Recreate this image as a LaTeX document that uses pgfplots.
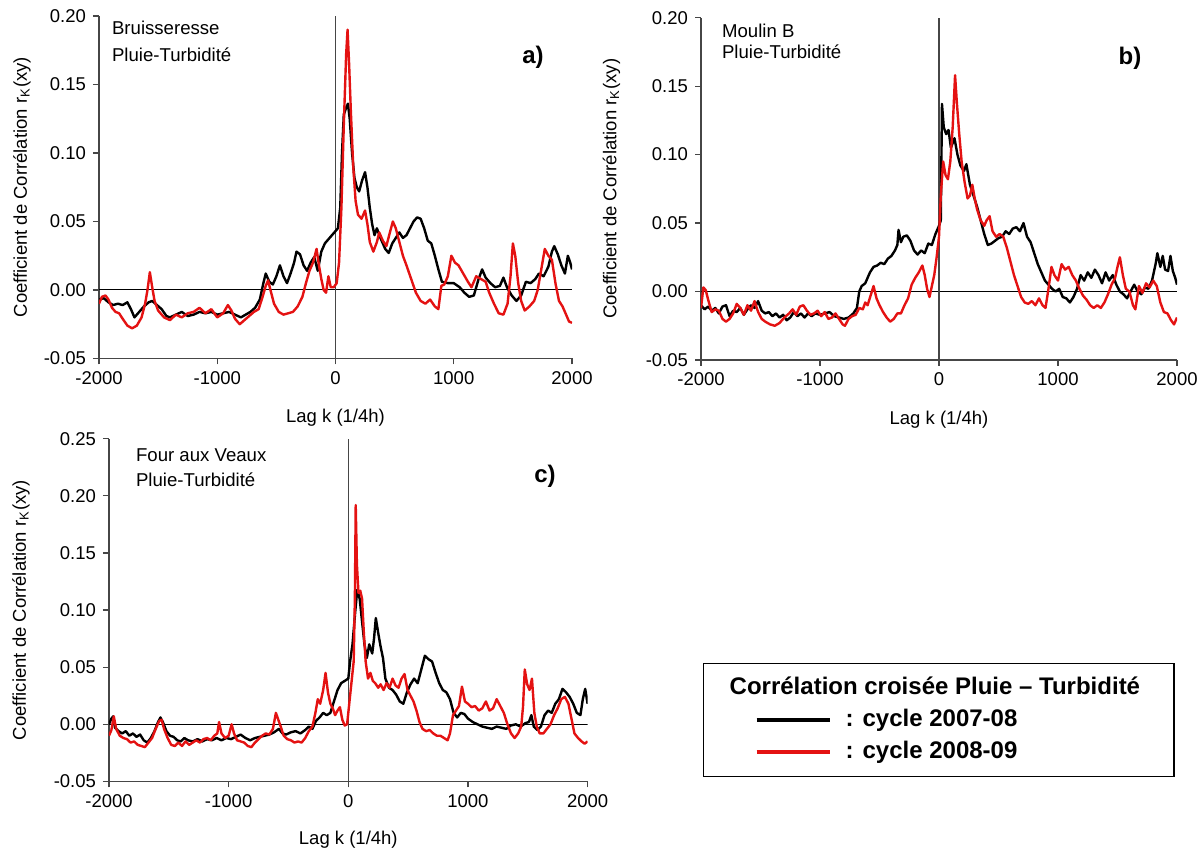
\documentclass[border=0pt]{standalone}
\usepackage{pgfplots}
\pgfplotsset{compat=1.18}
\usepackage{fontspec}
\setmainfont{Liberation Sans}
\definecolor{axgray}{RGB}{70,70,70}
\definecolor{cred}{RGB}{228,18,18}
\pgfplotsset{
  panel/.style={
    scale only axis,
    axis lines*=left,
    axis line style={axgray, line width=0.6pt},
    tick style={axgray, line width=0.6pt},
    tick align=outside,
    major tick length=3pt,
    xmin=-2000, xmax=2000,
    xtick={-2000,-1000,0,1000,2000},
    xticklabels={-2000,-1000,0,1000,2000},
    ticklabel style={font=\fontsize{9.25}{11}\selectfont},
    label style={font=\fontsize{9.25}{11}\selectfont},
    xlabel={Lag k (1/4h)},
    ylabel={Coefficient de Corrélation r\textsubscript{K}(xy)},
  },
  ylab/.style={ylabel style={at={([xshift=#1]axis description cs:0,0.5)}, anchor=center, rotate=0}},
  xlab/.style={xlabel style={at={([yshift=#1]axis description cs:0.5,0)}, anchor=center}},
  blk/.style={black, line width=1.2pt, line join=round},
  rd/.style={cred, line width=1.2pt, line join=round},
  zl/.style={black, line width=0.5pt},
  vl/.style={axgray, line width=0.6pt},
}
\begin{document}
\begin{tikzpicture}
\useasboundingbox (0,0) rectangle (601.5pt,427pt);
% ---------------- a ----------------
\begin{axis}[panel, at={(49.5pt,247.75pt)}, anchor=south west,
  width=236.5pt, height=171.25pt,
  ymin=-0.05, ymax=0.20,
  ytick={-0.05,0,0.05,0.10,0.15,0.20},
  yticklabels={-0.05,0.00,0.05,0.10,0.15,0.20},
  xlab=-29.75pt, ylab=-38.5pt]
\addplot[zl, forget plot] coordinates {(-2000,0) (2000,0)};
\addplot[vl, forget plot] coordinates {(0,-0.05) (0,0.20)};
\addplot[blk] coordinates {(-2000,-0.007) (-1960,-0.006) (-1920,-0.009) (-1880,-0.011) (-1840,-0.010) (-1800,-0.011) (-1760,-0.009) (-1730,-0.014) (-1700,-0.020) (-1660,-0.016) (-1620,-0.012) (-1580,-0.009) (-1550,-0.008) (-1510,-0.011) (-1470,-0.014) (-1430,-0.019) (-1400,-0.020) (-1350,-0.018) (-1300,-0.016) (-1250,-0.019) (-1200,-0.018) (-1150,-0.016) (-1100,-0.017) (-1050,-0.016) (-1000,-0.018) (-950,-0.017) (-900,-0.016) (-850,-0.018) (-800,-0.020) (-760,-0.018) (-720,-0.016) (-680,-0.013) (-640,-0.007) (-610,0.005) (-590,0.012) (-560,0.006) (-530,0.004) (-500,0.010) (-470,0.018) (-440,0.010) (-410,0.005) (-380,0.012) (-350,0.020) (-330,0.028) (-300,0.026) (-270,0.018) (-240,0.014) (-210,0.020) (-180,0.024) (-150,0.014) (-120,0.028) (-90,0.034) (-60,0.037) (-30,0.040) (0,0.043) (20,0.045) (40,0.060) (55,0.100) (70,0.128) (90,0.133) (105,0.136) (120,0.125) (140,0.100) (160,0.082) (180,0.075) (200,0.072) (225,0.080) (250,0.086) (270,0.075) (290,0.060) (310,0.048) (330,0.040) (350,0.045) (380,0.038) (420,0.030) (450,0.027) (480,0.034) (510,0.038) (540,0.042) (570,0.038) (600,0.040) (630,0.045) (660,0.050) (690,0.053) (720,0.052) (750,0.045) (780,0.036) (810,0.034) (840,0.025) (870,0.015) (900,0.006) (950,0.005) (1000,0.005) (1050,0.002) (1090,-0.002) (1130,-0.005) (1170,-0.004) (1210,0.008) (1240,0.015) (1270,0.009) (1310,0.005) (1350,0.002) (1390,0.003) (1420,0.009) (1450,0.002) (1490,-0.004) (1530,-0.008) (1570,-0.004) (1610,0.006) (1650,0.005) (1690,0.008) (1720,0.012) (1760,0.010) (1800,0.017) (1830,0.028) (1850,0.032) (1880,0.026) (1910,0.018) (1940,0.012) (1965,0.025) (1985,0.020) (2000,0.015)};
\addplot[rd] coordinates {(-2000,-0.010) (-1975,-0.005) (-1945,-0.004) (-1920,-0.007) (-1890,-0.013) (-1860,-0.016) (-1830,-0.017) (-1800,-0.021) (-1760,-0.026) (-1720,-0.028) (-1680,-0.026) (-1640,-0.020) (-1610,-0.010) (-1590,0.000) (-1570,0.013) (-1550,0.002) (-1530,-0.008) (-1500,-0.015) (-1450,-0.020) (-1400,-0.022) (-1350,-0.018) (-1300,-0.020) (-1250,-0.017) (-1200,-0.016) (-1150,-0.013) (-1100,-0.017) (-1050,-0.014) (-1000,-0.020) (-950,-0.017) (-910,-0.011) (-880,-0.015) (-850,-0.021) (-810,-0.025) (-770,-0.022) (-730,-0.019) (-690,-0.016) (-650,-0.014) (-620,-0.006) (-590,0.003) (-570,0.007) (-550,0.000) (-520,-0.010) (-480,-0.016) (-440,-0.018) (-400,-0.017) (-360,-0.016) (-320,-0.012) (-280,-0.005) (-250,0.005) (-220,0.014) (-190,0.020) (-160,0.030) (-140,0.018) (-120,0.008) (-100,0.000) (-80,-0.002) (-60,0.010) (-40,0.002) (-15,0.002) (10,0.005) (30,0.020) (50,0.060) (70,0.120) (90,0.172) (102,0.190) (115,0.165) (130,0.130) (150,0.090) (170,0.065) (190,0.055) (220,0.052) (250,0.058) (270,0.048) (290,0.035) (320,0.028) (350,0.035) (370,0.042) (400,0.036) (430,0.032) (460,0.042) (485,0.050) (510,0.045) (540,0.035) (570,0.025) (600,0.018) (640,0.008) (680,-0.002) (720,-0.008) (760,-0.010) (800,-0.007) (840,-0.012) (870,-0.014) (895,0.003) (920,0.004) (950,0.010) (980,0.025) (1010,0.020) (1040,0.018) (1080,0.012) (1120,0.006) (1150,0.002) (1190,0.010) (1230,0.008) (1270,0.006) (1300,-0.002) (1340,-0.010) (1380,-0.017) (1420,-0.018) (1455,-0.010) (1480,0.010) (1500,0.034) (1520,0.025) (1545,0.005) (1570,-0.008) (1600,-0.015) (1640,-0.012) (1680,-0.008) (1710,0.000) (1740,0.015) (1770,0.030) (1800,0.025) (1830,0.022) (1860,0.005) (1890,-0.008) (1920,-0.012) (1950,-0.018) (1975,-0.023) (2000,-0.024)};
\node[anchor=base west, font=\fontsize{9.3}{11}\selectfont] at (rel axis cs:0.0127,0.9445) {Bruisseresse};
\node[anchor=base west, font=\fontsize{9.3}{11}\selectfont] at (rel axis cs:0.0127,0.8666) {Pluie-Turbidité};
\node[anchor=center, font=\bfseries\fontsize{12}{14}\selectfont] at (rel axis cs:0.9175,0.880) {a)};
\end{axis}
% ---------------- b ----------------
\begin{axis}[panel, at={(350.5pt,247pt)}, anchor=south west,
  width=238pt, height=171.15pt,
  ymin=-0.05, ymax=0.20,
  ytick={-0.05,0,0.05,0.10,0.15,0.20},
  yticklabels={-0.05,0.00,0.05,0.10,0.15,0.20},
  xlab=-30pt, ylab=-44.75pt]
\addplot[zl, forget plot] coordinates {(-2000,0) (2000,0)};
\addplot[vl, forget plot] coordinates {(0,-0.05) (0,0.20)};
\addplot[blk] coordinates {(-2000,-0.010) (-1970,-0.013) (-1940,-0.011) (-1910,-0.014) (-1880,-0.012) (-1850,-0.016) (-1820,-0.011) (-1790,-0.010) (-1760,-0.018) (-1730,-0.014) (-1700,-0.015) (-1670,-0.012) (-1640,-0.017) (-1610,-0.013) (-1580,-0.010) (-1550,-0.012) (-1520,-0.007) (-1490,-0.014) (-1460,-0.016) (-1430,-0.015) (-1400,-0.018) (-1370,-0.016) (-1340,-0.019) (-1310,-0.017) (-1280,-0.021) (-1250,-0.019) (-1220,-0.015) (-1190,-0.018) (-1160,-0.016) (-1130,-0.019) (-1100,-0.016) (-1070,-0.018) (-1040,-0.016) (-1000,-0.017) (-960,-0.016) (-920,-0.015) (-880,-0.018) (-840,-0.019) (-800,-0.020) (-760,-0.019) (-720,-0.016) (-690,-0.012) (-670,0.000) (-650,0.004) (-620,0.006) (-600,0.010) (-580,0.014) (-550,0.018) (-520,0.019) (-490,0.021) (-460,0.020) (-430,0.024) (-400,0.026) (-370,0.030) (-350,0.034) (-340,0.045) (-320,0.036) (-300,0.040) (-270,0.041) (-240,0.037) (-210,0.030) (-180,0.027) (-150,0.030) (-120,0.028) (-90,0.035) (-60,0.034) (-30,0.042) (0,0.048) (15,0.052) (25,0.137) (40,0.120) (60,0.115) (80,0.118) (100,0.105) (130,0.112) (155,0.100) (180,0.092) (210,0.088) (230,0.093) (260,0.078) (290,0.070) (320,0.062) (350,0.052) (380,0.042) (410,0.034) (440,0.035) (470,0.037) (500,0.039) (530,0.040) (560,0.044) (590,0.042) (620,0.046) (650,0.047) (680,0.044) (710,0.050) (740,0.040) (770,0.036) (800,0.028) (830,0.020) (860,0.014) (890,0.008) (920,0.005) (950,0.002) (980,0.000) (1010,0.002) (1040,-0.004) (1070,-0.005) (1100,-0.008) (1130,-0.004) (1160,0.002) (1190,0.012) (1220,0.008) (1250,0.014) (1280,0.010) (1310,0.016) (1340,0.012) (1370,0.006) (1400,0.014) (1430,0.008) (1460,0.012) (1490,0.005) (1520,0.000) (1550,-0.002) (1580,-0.005) (1610,0.000) (1640,0.005) (1670,0.000) (1700,-0.002) (1730,0.003) (1760,0.002) (1790,0.008) (1820,0.020) (1835,0.028) (1860,0.018) (1880,0.026) (1900,0.016) (1925,0.015) (1945,0.026) (1965,0.015) (1985,0.010) (2000,0.005)};
\addplot[rd] coordinates {(-2000,-0.012) (-1980,0.003) (-1960,0.001) (-1940,-0.006) (-1910,-0.015) (-1880,-0.013) (-1850,-0.014) (-1820,-0.020) (-1790,-0.022) (-1760,-0.020) (-1730,-0.016) (-1700,-0.009) (-1670,-0.012) (-1640,-0.017) (-1610,-0.010) (-1580,-0.014) (-1550,-0.007) (-1520,-0.015) (-1490,-0.020) (-1460,-0.022) (-1420,-0.024) (-1380,-0.025) (-1340,-0.023) (-1300,-0.019) (-1260,-0.016) (-1230,-0.013) (-1200,-0.017) (-1170,-0.011) (-1140,-0.010) (-1110,-0.014) (-1080,-0.017) (-1050,-0.016) (-1020,-0.014) (-990,-0.018) (-960,-0.015) (-930,-0.020) (-900,-0.019) (-870,-0.016) (-840,-0.020) (-810,-0.024) (-790,-0.025) (-760,-0.020) (-730,-0.018) (-700,-0.017) (-670,-0.012) (-640,-0.013) (-620,-0.008) (-600,-0.010) (-575,-0.003) (-550,0.004) (-525,-0.005) (-500,-0.010) (-470,-0.015) (-440,-0.019) (-410,-0.022) (-380,-0.020) (-350,-0.016) (-320,-0.016) (-290,-0.010) (-260,-0.005) (-230,0.005) (-200,0.010) (-170,0.014) (-140,0.019) (-120,0.012) (-100,0.002) (-80,-0.004) (-60,0.004) (-40,0.012) (-20,0.025) (0,0.040) (15,0.070) (35,0.095) (55,0.085) (75,0.082) (95,0.095) (115,0.120) (135,0.158) (150,0.138) (170,0.115) (190,0.095) (215,0.080) (240,0.068) (260,0.070) (280,0.078) (300,0.068) (320,0.060) (350,0.052) (380,0.048) (400,0.052) (425,0.055) (450,0.044) (480,0.040) (510,0.042) (540,0.040) (570,0.032) (600,0.022) (630,0.012) (660,0.004) (690,-0.004) (720,-0.008) (750,-0.009) (780,-0.007) (810,-0.010) (840,-0.005) (870,-0.010) (895,-0.012) (920,0.002) (945,0.018) (970,0.012) (1000,0.008) (1030,0.020) (1060,0.016) (1090,0.018) (1120,0.012) (1150,0.008) (1180,0.002) (1210,-0.003) (1240,-0.006) (1270,-0.010) (1300,-0.012) (1330,-0.010) (1360,-0.012) (1390,-0.008) (1420,-0.002) (1450,0.005) (1480,0.010) (1500,0.018) (1520,0.025) (1545,0.012) (1570,0.002) (1600,0.000) (1630,-0.010) (1650,-0.013) (1680,0.004) (1710,-0.001) (1740,0.006) (1770,0.003) (1800,0.008) (1830,0.004) (1860,-0.008) (1890,-0.015) (1920,-0.016) (1950,-0.021) (1975,-0.024) (2000,-0.019)};
\node[anchor=base west, font=\fontsize{9.3}{11}\selectfont] at (rel axis cs:0.0294,0.9407) {Moulin B};
\node[anchor=base west, font=\fontsize{9.3}{11}\selectfont] at (rel axis cs:0.0294,0.8814) {Pluie-Turbidité};
\node[anchor=center, font=\bfseries\fontsize{12}{14}\selectfont] at (rel axis cs:0.9013,0.8823) {b)};
\end{axis}
% ---------------- c ----------------
\begin{axis}[panel, at={(54.5pt,36.3pt)}, anchor=south west,
  width=239.3pt, height=171.3pt,
  ymin=-0.05, ymax=0.25,
  ytick={-0.05,0,0.05,0.10,0.15,0.20,0.25},
  yticklabels={-0.05,0.00,0.05,0.10,0.15,0.20,0.25},
  xlab=-29.3pt, ylab=-44pt,
  legend style={at={(1.241,0.3456)}, anchor=north west, draw=black, line width=0.6pt,
    inner xsep=9pt, inner ysep=4.5pt, row sep=0.5pt, column sep=5pt,
    font=\bfseries\fontsize{12}{14}\selectfont,
    nodes={inner sep=2pt, text height=9pt, text depth=2.5pt}},
  legend cell align=left,
  legend image code/.code={\path (0pt,0pt); \draw[#1, line width=2pt] (17pt,0pt) -- (53.5pt,0pt);}]
\addplot[zl, forget plot] coordinates {(-2000,0) (2000,0)};
\addplot[vl, forget plot] coordinates {(0,-0.05) (0,0.25)};
\addplot[blk, forget plot] coordinates {(-2000,0.000) (-1980,0.005) (-1965,0.007) (-1950,-0.003) (-1920,-0.006) (-1890,-0.008) (-1860,-0.006) (-1830,-0.010) (-1800,-0.008) (-1770,-0.011) (-1740,-0.009) (-1710,-0.014) (-1680,-0.016) (-1650,-0.012) (-1620,-0.006) (-1590,0.002) (-1570,0.006) (-1550,0.002) (-1520,-0.006) (-1490,-0.010) (-1460,-0.011) (-1430,-0.014) (-1400,-0.015) (-1370,-0.012) (-1340,-0.014) (-1300,-0.015) (-1260,-0.013) (-1220,-0.015) (-1180,-0.013) (-1140,-0.014) (-1100,-0.012) (-1060,-0.014) (-1020,-0.012) (-980,-0.013) (-940,-0.011) (-900,-0.009) (-860,-0.012) (-820,-0.014) (-780,-0.012) (-740,-0.011) (-700,-0.010) (-660,-0.009) (-620,-0.007) (-580,-0.004) (-550,-0.008) (-520,-0.009) (-480,-0.007) (-440,-0.006) (-400,-0.008) (-360,-0.005) (-330,-0.002) (-300,-0.004) (-270,0.003) (-240,0.006) (-210,0.010) (-180,0.008) (-150,0.010) (-120,0.020) (-90,0.030) (-60,0.036) (-30,0.038) (0,0.040) (15,0.055) (35,0.070) (55,0.095) (75,0.118) (95,0.110) (115,0.090) (135,0.070) (155,0.058) (175,0.070) (200,0.062) (215,0.075) (230,0.093) (250,0.080) (270,0.068) (290,0.058) (310,0.040) (340,0.032) (370,0.030) (400,0.026) (430,0.020) (460,0.018) (490,0.028) (520,0.035) (550,0.040) (580,0.036) (610,0.048) (640,0.060) (670,0.057) (700,0.055) (730,0.045) (760,0.036) (790,0.030) (820,0.028) (850,0.022) (880,0.010) (910,0.006) (940,0.010) (970,0.009) (1000,0.005) (1040,0.002) (1080,0.000) (1120,-0.002) (1160,-0.003) (1200,-0.004) (1240,-0.002) (1280,-0.003) (1320,-0.004) (1360,-0.001) (1400,0.000) (1440,-0.002) (1480,0.001) (1510,0.002) (1530,0.008) (1550,-0.002) (1580,-0.005) (1610,-0.002) (1640,0.008) (1670,0.012) (1700,0.010) (1730,0.018) (1760,0.022) (1790,0.031) (1820,0.028) (1850,0.024) (1880,0.018) (1910,0.010) (1940,0.008) (1960,0.022) (1980,0.031) (2000,0.018)};
\addplot[rd, forget plot] coordinates {(-2000,-0.010) (-1980,-0.005) (-1960,0.007) (-1940,-0.004) (-1910,-0.010) (-1880,-0.012) (-1850,-0.013) (-1820,-0.016) (-1790,-0.015) (-1760,-0.018) (-1730,-0.019) (-1700,-0.020) (-1670,-0.016) (-1640,-0.012) (-1610,-0.004) (-1580,0.003) (-1560,0.004) (-1540,-0.004) (-1510,-0.012) (-1480,-0.018) (-1450,-0.019) (-1420,-0.016) (-1390,-0.019) (-1360,-0.015) (-1330,-0.018) (-1300,-0.016) (-1270,-0.014) (-1240,-0.016) (-1210,-0.013) (-1180,-0.012) (-1150,-0.014) (-1120,-0.010) (-1095,-0.008) (-1080,0.002) (-1060,-0.008) (-1030,-0.012) (-1000,-0.010) (-975,0.000) (-955,-0.008) (-930,-0.014) (-900,-0.015) (-870,-0.016) (-840,-0.019) (-810,-0.020) (-780,-0.016) (-750,-0.013) (-720,-0.010) (-690,-0.008) (-660,-0.009) (-630,-0.004) (-605,0.010) (-585,0.004) (-565,-0.002) (-540,-0.010) (-510,-0.013) (-480,-0.014) (-450,-0.016) (-420,-0.015) (-390,-0.016) (-360,-0.012) (-330,-0.006) (-300,-0.002) (-275,0.010) (-255,0.022) (-235,0.018) (-210,0.030) (-190,0.045) (-170,0.028) (-150,0.018) (-130,0.014) (-110,0.008) (-90,0.012) (-70,0.015) (-50,0.004) (-30,-0.001) (-10,0.000) (10,0.020) (30,0.040) (45,0.055) (55,0.110) (62,0.192) (72,0.140) (85,0.115) (100,0.117) (115,0.110) (130,0.080) (145,0.055) (165,0.040) (185,0.045) (205,0.038) (225,0.036) (250,0.032) (270,0.035) (295,0.030) (320,0.036) (345,0.032) (370,0.040) (395,0.034) (420,0.032) (445,0.040) (470,0.044) (495,0.030) (520,0.025) (545,0.020) (570,0.012) (595,0.002) (620,-0.004) (650,-0.006) (680,-0.005) (710,-0.008) (740,-0.010) (770,-0.010) (800,-0.012) (830,-0.014) (850,-0.008) (875,0.008) (900,0.012) (925,0.016) (950,0.033) (975,0.020) (1000,0.018) (1030,0.015) (1060,0.016) (1090,0.012) (1120,0.014) (1150,0.020) (1180,0.012) (1210,0.014) (1240,0.022) (1270,0.016) (1300,0.010) (1330,0.000) (1360,-0.008) (1390,-0.012) (1420,-0.008) (1445,-0.002) (1460,0.015) (1475,0.048) (1495,0.035) (1515,0.030) (1535,0.040) (1555,0.010) (1575,-0.002) (1600,-0.008) (1630,-0.008) (1660,-0.004) (1690,0.000) (1720,0.008) (1750,0.014) (1780,0.022) (1810,0.024) (1840,0.018) (1865,0.005) (1890,-0.008) (1920,-0.012) (1950,-0.015) (1975,-0.017) (2000,-0.015)};
\addlegendimage{empty legend}
\addlegendentry{\hspace*{-58pt}Corrélation croisée Pluie – Turbidité\hspace*{6pt}}
\addlegendimage{blk}
\addlegendentry{: cycle 2007-08}
\addlegendimage{rd}
\addlegendentry{: cycle 2008-09}
\node[anchor=base west, font=\fontsize{9.3}{11}\selectfont] at (rel axis cs:0.0418,0.9332) {Four aux Veaux};
\node[anchor=base west, font=\fontsize{9.3}{11}\selectfont] at (rel axis cs:0.0418,0.8602) {Pluie-Turbidité};
\node[anchor=center, font=\bfseries\fontsize{12}{14}\selectfont] at (rel axis cs:0.911,0.8894) {c)};
\end{axis}
\end{tikzpicture}
\end{document}
